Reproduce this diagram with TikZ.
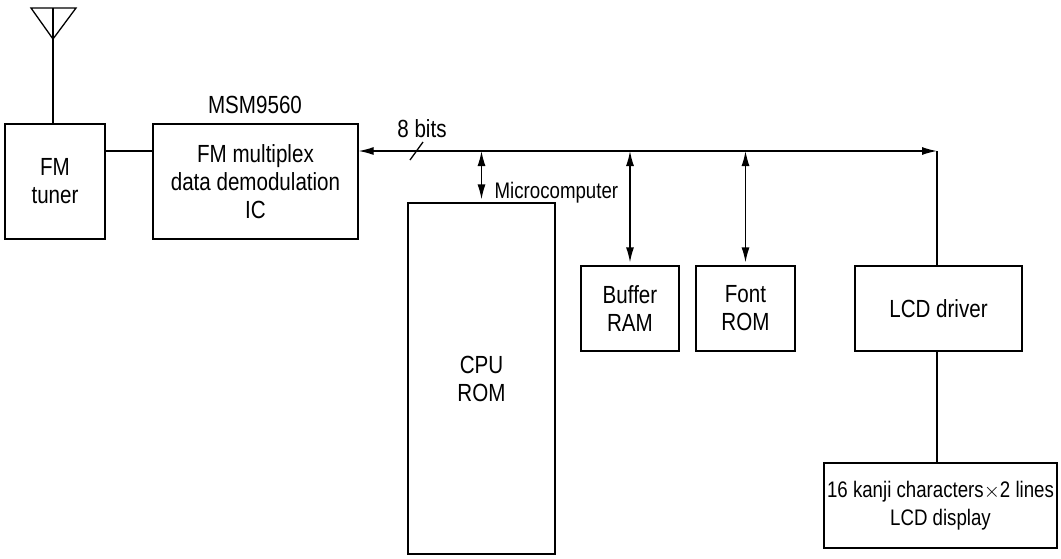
\documentclass[tikz,border=0pt]{standalone}
\usepackage{fontspec}
\setmainfont{Liberation Sans}[FakeStretch=0.83]
\usepackage{tikz}
\usetikzlibrary{arrows.meta, positioning}

\begin{document}
\begin{tikzpicture}[
    x=1pt, y=-1pt, line width=1.3pt,
    every node/.style={font=\fontsize{24.8}{28}\selectfont, align=center},
    blk/.style={draw, inner sep=0pt, minimum height=85pt},
    plain/.style={draw=none, inner sep=0pt},
    smalltext/.style={plain, font=\fontsize{22.5}{28}\selectfont},
    bus/.style={{Latex[length=15pt,width=8pt]}-{Latex[length=15pt,width=8pt]}},
]
\useasboundingbox (0,0) rectangle (1061,558);

\node[blk, minimum width=100pt, minimum height=115pt] (tuner) at (55,181.5) {FM\\tuner};
\node[blk, minimum width=205pt, minimum height=115pt] (mux) at (255.5,181.5) {FM multiplex\\data demodulation\\IC};
\node[plain] (chip) at (255,105) {MSM9560};

\node[blk, minimum width=147pt, minimum height=351pt] (cpu) at (481.5,378.5) {CPU\\ROM};
\node[blk, minimum width=98pt] (buf) at (630,308.5) {Buffer\\RAM};
\node[blk, minimum width=99pt] (font) at (745.5,308.5) {Font\\ROM};
\node[blk, minimum width=167pt] (lcd) at (938.5,308.5) {LCD driver};
\node[blk, minimum width=233pt, font=\fontsize{22.5}{28}\selectfont] (disp) at (940.5,505.5) {16 kanji characters$\times$2 lines\\LCD display};

\node[plain] (width) at (422,129) {8 bits};
\node[smalltext, anchor=west] (micro) at (494,193) {Microcomputer};

\coordinate (ant) at (53,39);
\coordinate (busy) at (0,151);
\coordinate (busend) at (937,151);

% antenna
\draw (31,8) -- (76,8) -- (ant) -- cycle;
\draw (53,8) -- (tuner.north -| ant);

\draw (tuner.east |- busy) -- (mux.west |- busy);

% data bus
\draw[bus] (mux.east |- busy) -- (busend);
\draw (410,160) -- (423,142);
\draw[bus, shorten >=3pt] (cpu.north |- busy) -- (cpu.north);
\draw[bus, shorten >=3pt] (buf.north |- busy) -- (buf.north);
\draw[bus, shorten >=3pt] (font.north |- busy) -- (font.north);
\draw (busend) -- (lcd.north -| busend);
\draw (lcd.south -| busend) -- (disp.north -| busend);

\end{tikzpicture}
\end{document}
